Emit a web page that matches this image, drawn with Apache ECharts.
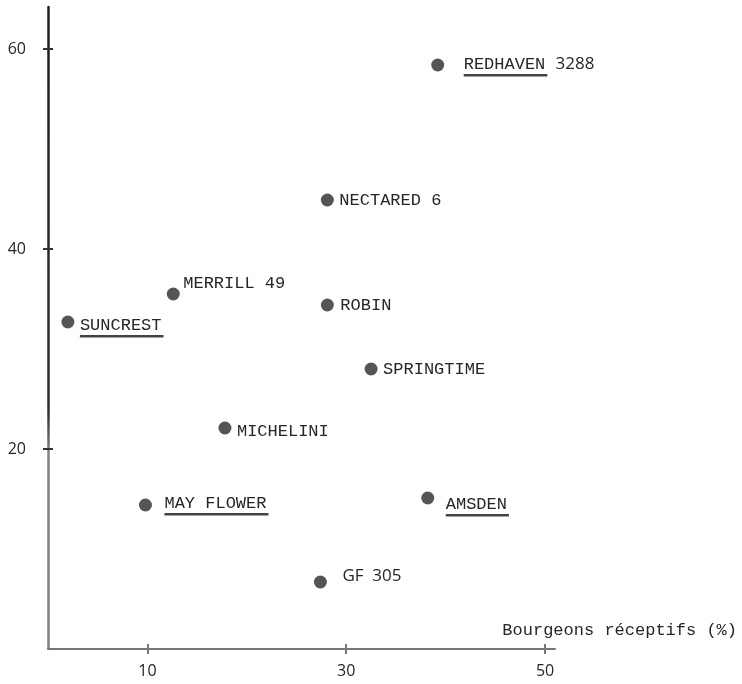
<!DOCTYPE html>
<html>
<head>
<meta charset="utf-8">
<script src="https://cdn.jsdelivr.net/npm/echarts@6/dist/echarts.min.js"></script>
<style>
html,body{margin:0;padding:0;background:#fff;}
#chart{width:742px;height:684px;}
</style>
</head>
<body>
<div id="chart"></div>
<script>
// ---- data ----
const monoNames = ['REDHAVEN', 'NECTARED 6', 'MERRILL 49', 'ROBIN', 'SUNCREST', 'SPRINGTIME', 'MICHELINI', 'MAY FLOWER', 'AMSDEN', ''];
const sansNames = ['3288', '', '', '', '', '', '', '', '', 'GF  305'];
const xValues = [39.2, 28.1, 12.6, 28.1, 2.0, 32.5, 17.8, 9.8, 38.2, 27.4];
const yValues = [58.4, 44.9, 35.5, 34.4, 32.7, 28.0, 22.1, 14.4, 15.1, 6.7];
const xTickValues = [10, 30, 50];
const yTickValues = [20, 40, 60];
const xAxisTitle = 'Bourgeons réceptifs (%)';

// ---- label styling (offsets in px from the dot, underline flag) ----
const labelDx = [26, 12, 10, 13, 12, 12, 12, 19, 18, 22];
const labelDy = [-1, 0, -11, 0, 3, 0, 3, -2, 6, -6];
const labelUnderline = [true, false, false, false, true, false, false, true, true, false];

const MONO = '17px "Liberation Mono", "DejaVu Sans Mono", monospace';
const SANS = '17px "Open Sans", "DejaVu Sans", sans-serif';
const INK = '#262626';

const measureCtx = document.createElement('canvas').getContext('2d');
function textWidth(t, font) { measureCtx.font = font; return measureCtx.measureText(t).width; }

const pts = xValues.map((x, i) => [x, yValues[i]]);

const chart = echarts.init(document.getElementById('chart'), null, {renderer: 'canvas'});

const yLineColor = {
  type: 'linear', x: 0, y: 0, x2: 0, y2: 684, global: true,
  colorStops: [
    {offset: 0, color: '#1e1e1e'},
    {offset: 0.6, color: '#2e2e2e'},
    {offset: 0.66, color: '#808080'},
    {offset: 1, color: '#808080'}
  ]
};

const option = {
  backgroundColor: '#fff',
  animation: false,
  grid: {left: 48, right: 187, top: 7, bottom: 35, containLabel: false},
  xAxis: [{
    type: 'value', min: 0, max: 51,
    axisLine: {show: true, onZero: false, lineStyle: {color: '#777', width: 2}},
    axisTick: {show: true, length: 5, customValues: xTickValues, lineStyle: {color: '#777', width: 2}},
    axisLabel: {customValues: xTickValues, margin: 14, fontFamily: '"Open Sans", sans-serif', fontSize: 16, color: INK},
    splitLine: {show: false},
    name: xAxisTitle, nameLocation: 'end', nameGap: 182,
    nameTextStyle: {fontFamily: '"Liberation Mono", monospace', fontSize: 17, color: INK, align: 'right', verticalAlign: 'bottom', padding: [0, 0, 10, 0]}
  }, {
    type: 'value', min: 0, max: 51, position: 'bottom',
    axisLine: {show: false},
    axisTick: {show: true, inside: true, length: 5, customValues: xTickValues, lineStyle: {color: '#777', width: 2}},
    axisLabel: {show: false},
    splitLine: {show: false}
  }],
  yAxis: [{
    type: 'value', min: 0, max: 64.2,
    axisLine: {show: true, onZero: false, lineStyle: {color: yLineColor, width: 2.5}},
    axisTick: {show: true, length: 5, customValues: yTickValues, lineStyle: {color: '#333', width: 2}},
    axisLabel: {customValues: yTickValues, margin: 22, fontFamily: '"Open Sans", sans-serif', fontSize: 16, color: INK},
    splitLine: {show: false}
  }, {
    type: 'value', min: 0, max: 64.2, position: 'left',
    axisLine: {show: false},
    axisTick: {show: true, inside: true, length: 5, customValues: yTickValues, lineStyle: {color: '#333', width: 2}},
    axisLabel: {show: false},
    splitLine: {show: false}
  }],
  series: [{
    type: 'scatter',
    data: pts,
    symbol: 'circle',
    symbolSize: 13,
    itemStyle: {color: '#2a2a2a'},
    silent: true
  }, {
    type: 'custom',
    data: pts,
    silent: true,
    renderItem: function (params, api) {
      const i = params.dataIndex;
      const p = api.coord([api.value(0), api.value(1)]);
      const x0 = p[0] + labelDx[i];
      const y0 = p[1] + labelDy[i];
      const children = [];
      let x = x0;
      const mono = monoNames[i];
      const sans = sansNames[i];
      if (mono) {
        children.push({type: 'text', style: {text: mono, x: x, y: y0, font: MONO, fill: INK, verticalAlign: 'middle', align: 'left'}});
        const w = textWidth(mono, MONO);
        if (labelUnderline[i]) {
          children.push({type: 'rect', shape: {x: x0, y: y0 + 10, width: w + 2, height: 2.5}, style: {fill: '#444'}});
        }
        x += w + textWidth(' ', MONO);
      }
      if (sans) {
        children.push({type: 'text', style: {text: sans, x: x, y: y0, font: SANS, fill: INK, verticalAlign: 'middle', align: 'left'}});
      }
      return {type: 'group', children: children};
    }
  }]
};
chart.setOption(option);
</script>
</body>
</html>
